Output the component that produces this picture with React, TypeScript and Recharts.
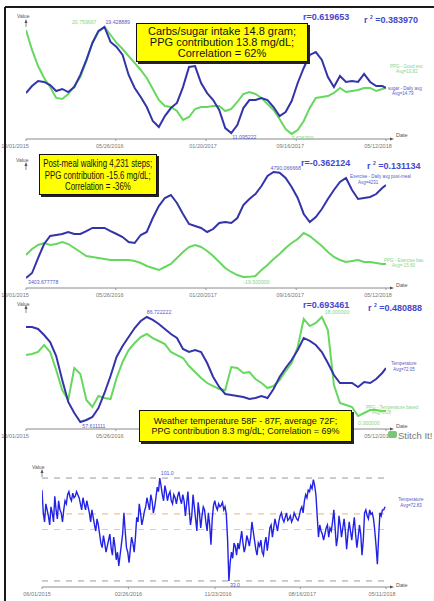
import React from 'react';
import { LineChart, Line, XAxis, YAxis, ReferenceLine, ReferenceDot } from 'recharts';

const FONT = '"Liberation Sans", Arial, Helvetica, sans-serif';
const BLUE = '#3434aa';
const GREEN = '#66d85e';
const NOTE_BLUE = '#5a5ac4';
const NOTE_GREEN = '#86d486';

// day offsets from 10/01/2015, shared by the three correlation panels
const trendDays = [
  0, 16, 32, 48, 64, 80, 96, 112, 128, 144, 160, 176, 192, 208, 224, 240, 256, 272, 288, 304,
  320, 336, 352, 368, 384, 400, 416, 432, 448, 464, 480, 496, 512, 528, 544, 560, 576, 592, 608, 624,
  640, 656, 672, 688, 704, 720, 736, 752, 768, 784, 800, 816, 832, 848, 864, 880, 896, 912, 928, 944, 954,
];
const trendTicks = [0, 238, 477, 716, 954];
const trendTickLabels = ['10/01/2015', '05/26/2016', '01/20/2017', '09/16/2017', '05/12/2018'];
const trendTickShift = [-11, -6, -3, -6, -8];

// panel 1: carbs/sugar intake (gram) vs PPG contribution
const carbsGram = [
  14.24, 14.79, 15.19, 15.11, 14.87, 14.4, 14.56, 14.32, 14.71, 15.66,
  16.84, 18.17, 19.12, 19.43, 18.25, 17.86, 17.23, 15.66, 14.64, 13.93,
  13.14, 12.04, 11.57, 12.43, 13.06, 13.46, 14.71, 16.29, 16.36, 15.03,
  14.24, 13.69, 12.91, 11.49, 11.1, 11.73, 13.06, 13.69, 13.69, 13.85,
  13.69, 13.14, 12.43, 12.75, 13.61, 15.03, 16.21, 17.23, 17.46, 16.84,
  15.5, 14.71, 15.58, 15.11, 15.19, 15.11, 15.74, 15.11, 14.79, 14.79, 14.64,
];
const carbsPpg = [
  20.45, 18.37, 16.7, 15.46, 14.52, 13.38, 13.27, 13.79, 14.62, 15.56,
  17.22, 19.1, 20.24, 20.76, 19.93, 19.1, 18.47, 17.74, 17.02, 16.29,
  15.46, 14.31, 13.17, 12.54, 12.44, 12.02, 11.09, 11.4, 12.23, 12.44,
  12.44, 12.54, 12.54, 12.02, 12.23, 12.96, 13.79, 14.0, 13.79, 13.38,
  12.75, 12.13, 11.19, 10.15, 9.64, 10.05, 10.98, 12.34, 13.38, 13.48,
  13.58, 13.9, 14.42, 14.0, 14.1, 14.21, 14.42, 14.42, 14.1, 14.31, 14.42,
];

// panel 2: post-meal walking steps vs PPG contribution
const walkSteps = [
  3403.68, 3469, 3665, 3848, 3953, 3966, 3979, 4005, 3979, 3979,
  4018, 4058, 4058, 4058, 4018, 3979, 3940, 3874, 3861, 3966,
  4005, 4188, 4345, 4450, 4489, 4385, 4241, 4110, 4084, 4058,
  4005, 4044, 4123, 4136, 4123, 4188, 4358, 4437, 4502, 4607,
  4738, 4790.07, 4780, 4712, 4594, 4450, 4241, 4136, 4201, 4306,
  4437, 4555, 4659, 4712, 4555, 4437, 4450, 4463, 4502, 4581, 4620,
];
const walkPpg = [
  -15.45, -14.35, -13.61, -13.24, -13.61, -13.43, -13.06, -13.43, -14.16, -14.9,
  -15.64, -15.82, -16.01, -16.19, -16.37, -16.37, -16.37, -16.37, -16.56, -16.93,
  -17.48, -17.85, -18.22, -17.66, -17.11, -16.01, -14.9, -13.98, -13.61, -13.98,
  -14.72, -15.64, -16.74, -17.85, -18.58, -19.14, -19.5, -19.48, -19.32, -18.22,
  -17.29, -16.19, -15.27, -14.16, -13.24, -12.51, -11.4, -11.95, -12.87, -13.79,
  -14.9, -15.82, -16.37, -16.74, -16.56, -16.37, -16.74, -16.74, -16.93, -17.11, -17.11,
];

// panel 3: weather temperature (F) vs PPG contribution
const weatherTemp = [
  83.95, 83.95, 83.39, 81.73, 79.79, 75.91, 69.26, 63.16, 60.11, 57.61,
  58.17, 59.0, 61.49, 65.65, 70.37, 75.63, 78.68, 81.18, 83.67, 85.61,
  86.72, 85.89, 84.78, 83.39, 82.01, 80.9, 77.85, 77.02, 77.57, 77.02,
  73.97, 70.09, 67.32, 65.38, 65.1, 64.82, 64.54, 63.99, 64.27, 64.82,
  64.27, 66.76, 70.09, 72.58, 74.8, 77.57, 80.9, 80.07, 78.96, 77.02,
  73.97, 70.64, 68.42, 68.42, 68.42, 67.32, 68.7, 68.42, 69.53, 71.2, 72.58,
];
const weatherPpg = [
  11.09, 11.27, 11.64, 12.91, 11.64, 8.36, 4.73, 2.91, 8.73, 7.64,
  2.91, 1.64, 3.64, 3.27, 3.09, 6.91, 9.82, 12.0, 13.27, 14.36,
  14.91, 14.18, 13.64, 13.09, 11.64, 11.09, 10.55, 9.09, 8.0, 6.91,
  6.0, 5.45, 4.91, 4.73, 8.91, 8.73, 7.82, 8.0, 6.73, 6.0,
  5.09, 5.45, 6.55, 8.18, 9.64, 12.55, 17.64, 16.36, 16.91, 18.0,
  15.64, 5.64, 2.36, 2.0, 1.64, 0.0, 0.55, 1.09, 1.09, 0.91, 0.91,
];

// panel 4: daily temperature, every 4th day from 06/01/2015
const dailyDays = [
  0, 4, 8, 12, 16, 20, 24, 28, 32, 36, 40, 44, 48, 52, 56, 60, 64, 68, 72, 76,
  80, 84, 88, 92, 96, 100, 104, 108, 112, 116, 120, 124, 128, 132, 136, 140, 144, 148, 152, 156,
  160, 164, 168, 172, 176, 180, 184, 188, 192, 196, 200, 204, 208, 212, 216, 220, 224, 228, 232, 236,
  240, 244, 248, 252, 256, 260, 264, 268, 272, 276, 280, 284, 288, 292, 296, 300, 304, 308, 312, 316,
  320, 324, 328, 332, 336, 340, 344, 348, 352, 356, 360, 364, 368, 372, 376, 380, 384, 388, 392, 396,
  400, 404, 408, 412, 416, 420, 424, 428, 432, 436, 440, 444, 448, 452, 456, 460, 464, 468, 472, 476,
  480, 484, 488, 492, 496, 500, 504, 508, 512, 516, 520, 524, 528, 532, 536, 540, 544, 548, 552, 556,
  560, 564, 568, 572, 576, 580, 584, 588, 592, 596, 600, 604, 608, 612, 616, 620, 624, 628, 632, 636,
  640, 644, 648, 652, 656, 660, 664, 668, 672, 676, 680, 684, 688, 692, 696, 700, 704, 708, 712, 716,
  720, 724, 728, 732, 736, 740, 744, 748, 752, 756, 760, 764, 768, 772, 776, 780, 784, 788, 792, 796,
  800, 804, 808, 812, 816, 820, 824, 828, 832, 836, 840, 844, 848, 852, 856, 860, 864, 868, 872, 876,
  880, 884, 888, 892, 896, 900, 904, 908, 912, 916, 920, 924, 928, 932, 936, 940, 944, 948, 952, 956,
  960, 964, 968, 972, 976, 980, 984, 988, 992, 996, 1000, 1004, 1008, 1012, 1016, 1020, 1024, 1028, 1032, 1036,
  1040, 1044, 1048, 1052, 1056, 1060, 1064, 1068, 1072,
];
const dailyTemp = [
  93, 78, 72, 84, 80, 76, 70, 82, 78, 72, 89, 80, 74, 86, 80, 78, 72, 80, 86, 84,
  90, 92, 88, 86, 91, 88, 89, 92, 90, 88, 84, 80, 88, 84, 80, 86, 82, 78, 72, 80,
  75, 70, 66, 74, 70, 64, 58, 55, 63, 58, 52, 56, 60, 64, 55, 50, 62, 56, 47, 52,
  43, 50, 57, 64, 78, 66, 55, 52, 45, 54, 62, 58, 52, 62, 75, 72, 84, 78, 70, 74,
  79, 82, 88, 84, 80, 90, 86, 78, 82, 88, 95, 92, 101, 96, 90, 86, 96, 92, 86, 90,
  92, 86, 84, 90, 88, 84, 89, 92, 87, 84, 90, 86, 76, 84, 92, 80, 70, 76, 90, 82,
  74, 66, 85, 78, 68, 76, 82, 80, 72, 66, 78, 70, 57, 74, 83, 86, 82, 80, 84, 82,
  83, 85, 80, 82, 77, 60, 33, 45, 52, 48, 58, 56, 50, 58, 54, 60, 66, 58, 52, 56,
  63, 60, 56, 62, 72, 66, 60, 54, 50, 58, 56, 60, 52, 50, 58, 62, 53, 60, 68, 70,
  62, 68, 74, 70, 66, 72, 76, 78, 74, 72, 75, 78, 73, 74, 76, 72, 74, 78, 76, 74,
  73, 76, 80, 82, 78, 86, 90, 88, 93, 92, 96, 94, 100, 96, 90, 76, 62, 70, 66, 64,
  60, 64, 68, 70, 62, 68, 66, 72, 80, 68, 56, 62, 76, 70, 62, 68, 74, 66, 54, 64,
  72, 66, 60, 68, 75, 64, 55, 62, 70, 64, 50, 60, 78, 80, 76, 74, 80, 77, 78, 74,
  66, 56, 44, 62, 78, 76, 80, 80, 82,
];
const dailyTicks = [0, 270, 541, 807, 1075];
const dailyTickLabels = ['06/01/2015', '02/26/2016', '11/23/2016', '08/16/2017', '05/11/2018'];
const dailyTickShift = [-5, 0, 3, 2, -4];
const dailyYTicks = [33, 50, 67, 84, 101];

const dateTick = (ticks: number[], labels: string[], shift: number[], hidden: number[] = []) => (props: any) => {
  const { x, y, payload } = props;
  const i = ticks.indexOf(payload.value);
  if (hidden.includes(i)) return <g />;
  return (
    <text x={x + shift[i]} y={y + 5} textAnchor="middle" fontSize={5.5} fill="#777" fontFamily={FONT}>
      {labels[i]}
    </text>
  );
};

const pointNote = (text: string, color: string, dx: number, dy: number, anchor = 'start') => (p: any) => {
  const vb = p.viewBox || {};
  return (
    <text x={(vb.x ?? 0) + dx} y={(vb.y ?? 0) + dy} textAnchor={anchor} fontSize={5.2} fill={color} fontFamily={FONT}>
      {text}
    </text>
  );
};

const argMax = (a: number[]) => a.indexOf(Math.max(...a));
const argMin = (a: number[]) => a.indexOf(Math.min(...a));

type TrendProps = {
  top: number;
  height: number;
  plotTop: number;
  main: number[];
  ppg: number[];
  mainDomain: [number, number];
  ppgDomain: [number, number];
  hiddenTicks?: number[];
  notes: { series: 'main' | 'ppg'; at: 'max' | 'min'; text: string; dx: number; dy: number; anchor?: string }[];
};

function TrendPanel({ top, height, plotTop, main, ppg, mainDomain, ppgDomain, hiddenTicks = [], notes }: TrendProps) {
  const rows = trendDays.map((d, i) => ({ day: d, main: main[i], ppg: ppg[i] }));
  return (
    <div style={{ position: 'absolute', left: 0, top }}>
      <LineChart width={434} height={height} data={rows} margin={{ top: plotTop, right: 48, left: 26, bottom: 0 }}>
        <XAxis
          dataKey="day"
          type="number"
          domain={[0, 954]}
          ticks={trendTicks}
          tick={dateTick(trendTicks, trendTickLabels, trendTickShift, hiddenTicks)}
          tickSize={2}
          tickLine={{ stroke: '#999' }}
          axisLine={{ stroke: '#8a8a8a' }}
          height={12}
          allowDataOverflow
        />
        <YAxis yAxisId="main" domain={mainDomain} width={0} tick={false} tickLine={false} axisLine={{ stroke: '#8a8a8a' }} allowDataOverflow />
        <YAxis yAxisId="ppg" domain={ppgDomain} hide allowDataOverflow />
        <Line yAxisId="ppg" dataKey="ppg" type="linear" stroke={GREEN} strokeWidth={2} dot={false} isAnimationActive={false} />
        <Line yAxisId="main" dataKey="main" type="linear" stroke={BLUE} strokeWidth={2} dot={false} isAnimationActive={false} />
        {notes.map((n, k) => {
          const arr = n.series === 'main' ? main : ppg;
          const i = n.at === 'max' ? argMax(arr) : argMin(arr);
          return (
            <ReferenceDot
              key={k}
              yAxisId={n.series}
              x={trendDays[i]}
              y={arr[i]}
              r={0}
              stroke="none"
              fill="none"
              label={pointNote(n.text, n.series === 'main' ? NOTE_BLUE : NOTE_GREEN, n.dx, n.dy, n.anchor)}
            />
          );
        })}
      </LineChart>
    </div>
  );
}

function DailyPanel() {
  const rows = dailyDays.map((d, i) => ({ day: d, temp: dailyTemp[i] }));
  const hi = argMax(dailyTemp);
  const lo = argMin(dailyTemp);
  return (
    <div style={{ position: 'absolute', left: 0, top: 455 }}>
      <LineChart width={434} height={144} data={rows} margin={{ top: 17, right: 48, left: 42, bottom: 0 }}>
        <XAxis
          dataKey="day"
          type="number"
          domain={[0, 1075]}
          ticks={dailyTicks}
          tick={dateTick(dailyTicks, dailyTickLabels, dailyTickShift)}
          tickSize={2}
          tickLine={{ stroke: '#999' }}
          axisLine={{ stroke: '#8a8a8a' }}
          height={12}
          allowDataOverflow
        />
        <YAxis
          domain={[29, 105]}
          ticks={dailyYTicks}
          width={0}
          tickSize={3}
          tickLine={{ stroke: '#999' }}
          axisLine={{ stroke: '#8a8a8a' }}
          tick={{ fontSize: 5, fill: '#777', fontFamily: FONT }}
          tickFormatter={(v: number) => v.toFixed(1)}
          allowDataOverflow
        />
        <ReferenceLine y={101} stroke="#9a9a9a" strokeDasharray="6 6" />
        <ReferenceLine y={77.3} stroke="#e9b47a" strokeDasharray="6 6" />
        <ReferenceLine y={67} stroke="#cfcfcf" strokeDasharray="6 6" />
        <ReferenceLine y={33} stroke="#9a9a9a" strokeDasharray="6 6" />
        <Line dataKey="temp" type="linear" stroke="#2222e6" strokeWidth={1.4} dot={false} isAnimationActive={false} />
        <ReferenceDot x={dailyDays[hi]} y={dailyTemp[hi]} r={0} stroke="none" fill="none" label={pointNote('101.0', NOTE_BLUE, 1, -3)} />
        <ReferenceDot x={dailyDays[lo]} y={dailyTemp[lo]} r={0} stroke="none" fill="none" label={pointNote('33.0', NOTE_BLUE, 1, 6)} />
      </LineChart>
    </div>
  );
}

const Txt = ({ x, y, size, color, children, anchor = 'left', bold = false }: any) => (
  <div
    style={{
      position: 'absolute',
      left: anchor === 'center' ? x - 60 : x,
      width: anchor === 'center' ? 120 : undefined,
      textAlign: anchor === 'center' ? 'center' : 'left',
      top: y - size / 2,
      fontSize: size,
      lineHeight: `${size}px`,
      color,
      fontWeight: bold ? 700 : 400,
      whiteSpace: 'nowrap',
      fontFamily: FONT,
    }}
  >
    {children}
  </div>
);

const YellowBox = ({ left, top, width, height, size, lineH, padTop, squeeze = 1, lines }: any) => (
  <div
    style={{
      position: 'absolute',
      left,
      top,
      width,
      height,
      boxSizing: 'border-box',
      background: '#ffff00',
      border: '1.5px solid #111',
      boxShadow: '2px 2px 0 #222',
      paddingTop: padTop,
      display: 'flex',
      flexDirection: 'column',
      alignItems: 'center',
      fontFamily: FONT,
      fontSize: size,
      lineHeight: `${lineH}px`,
      color: '#111',
    }}
  >
    {lines.map((l: string, i: number) => (
      <div key={i} style={{ whiteSpace: 'nowrap', transform: `scaleX(${squeeze})` }}>
        {l}
      </div>
    ))}
  </div>
);

function AxisMarks() {
  const yArrows = [
    { x: 26, y: 19 },
    { x: 26, y: 162 },
    { x: 26, y: 305 },
    { x: 42, y: 469 },
  ];
  const xArrows = [
    { x: 386, y: 139 },
    { x: 386, y: 288 },
    { x: 386, y: 429 },
    { x: 386, y: 587 },
  ];
  return (
    <svg width={434} height={601} style={{ position: 'absolute', left: 0, top: 0 }}>
      <line x1={5} y1={7} x2={434} y2={7} stroke="#1a1a1a" strokeWidth={2} />
      <line x1={5} y1={7} x2={5} y2={601} stroke="#1a1a1a" strokeWidth={2} />
      {yArrows.map((a, i) => (
        <g key={'y' + i}>
          <line x1={a.x} y1={a.y + 2} x2={a.x} y2={a.y + 8} stroke="#8a8a8a" strokeWidth={1} />
          <path d={`M${a.x - 1.5},${a.y + 4} L${a.x},${a.y} L${a.x + 1.5},${a.y + 4} Z`} fill="#555" />
        </g>
      ))}
      {xArrows.map((a, i) => (
        <g key={'x' + i}>
          <line x1={a.x} y1={a.y} x2={a.x + 5} y2={a.y} stroke="#8a8a8a" strokeWidth={1} />
          <path d={`M${a.x + 4},${a.y - 1.5} L${a.x + 8},${a.y} L${a.x + 4},${a.y + 1.5} Z`} fill="#555" />
        </g>
      ))}
    </svg>
  );
}

export default function App() {
  return (
    <div style={{ position: 'absolute', left: 0, top: 0, width: 434, height: 601, overflow: 'hidden', background: '#fff', fontFamily: FONT }}>
      <TrendPanel
        top={0}
        height={151}
        plotTop={22}
        main={carbsGram}
        ppg={carbsPpg}
        mainDomain={[10.63, 19.82]}
        ppgDomain={[9.11, 21.28]}
        notes={[
          { series: 'main', at: 'max', text: '19.428889', dx: 1, dy: -3 },
          { series: 'ppg', at: 'max', text: '20.759667', dx: -8, dy: -3, anchor: 'end' },
          { series: 'main', at: 'min', text: '11.095222', dx: 1, dy: 6 },
          { series: 'ppg', at: 'min', text: '9.636300', dx: 0, dy: 6 },
        ]}
      />
      <TrendPanel
        top={150}
        height={150}
        plotTop={15}
        main={walkSteps}
        ppg={walkPpg}
        mainDomain={[3272.8, 4881.6]}
        ppgDomain={[-21.53, 1.13]}
        notes={[
          { series: 'main', at: 'max', text: '4790.066668', dx: -3, dy: -2 },
          { series: 'main', at: 'min', text: '3403.677778', dx: 2, dy: 6 },
          { series: 'ppg', at: 'min', text: '-19.500000', dx: 0, dy: 7 },
        ]}
      />
      <TrendPanel
        top={295}
        height={146}
        plotTop={13}
        main={weatherTemp}
        ppg={weatherPpg}
        mainDomain={[55.67, 89.21]}
        ppgDomain={[-2.36, 19.64]}
        hiddenTicks={[2, 3]}
        notes={[
          { series: 'main', at: 'max', text: '86.722222', dx: 0, dy: -3 },
          { series: 'main', at: 'min', text: '57.611111', dx: 2, dy: 6 },
          { series: 'ppg', at: 'max', text: '18.000000', dx: 3, dy: -3 },
          { series: 'ppg', at: 'min', text: '0.000000', dx: 0, dy: 9 },
        ]}
      />
      <DailyPanel />
      <AxisMarks />

      <Txt x={17} y={16} size={5} color="#555">Value</Txt>
      <Txt x={16} y={160} size={5} color="#555">Value</Txt>
      <Txt x={17} y={304} size={5} color="#555">Value</Txt>
      <Txt x={32} y={467} size={5} color="#555">Value</Txt>
      <Txt x={396} y={136} size={5.5} color="#555">Date</Txt>
      <Txt x={396} y={286} size={5.5} color="#555">Date</Txt>
      <Txt x={396} y={427} size={5.5} color="#555">Date</Txt>
      <Txt x={396} y={586} size={5.5} color="#555">Date</Txt>

      <Txt x={303} y={17} size={9} color="#4747cc" bold>r=0.619653</Txt>
      <Txt x={364} y={17} size={9} color="#4747cc" bold>r <sup style={{ fontSize: 5 }}>2</sup> =0.383970</Txt>
      <Txt x={301} y={163} size={9} color="#4747cc" bold>r=-0.362124</Txt>
      <Txt x={367} y={163} size={9} color="#4747cc" bold>r <sup style={{ fontSize: 5 }}>2</sup> =0.131134</Txt>
      <Txt x={303} y={305} size={9} color="#4747cc" bold>r=0.693461</Txt>
      <Txt x={368} y={305} size={9} color="#4747cc" bold>r <sup style={{ fontSize: 5 }}>2</sup> =0.480888</Txt>

      <Txt x={390} y={67} size={4.5} color={NOTE_GREEN}>PPG - Good exc</Txt>
      <Txt x={396} y={72} size={4.5} color={NOTE_GREEN}>Avg=13.82</Txt>
      <Txt x={388} y={89} size={4.5} color={NOTE_BLUE}>sugar - Daily avg</Txt>
      <Txt x={392} y={94} size={4.5} color={NOTE_BLUE}>Avg=14.79</Txt>
      <Txt x={350} y={177} size={4.5} color={NOTE_BLUE}>Exercise - Daily avg post-meal</Txt>
      <Txt x={358} y={183} size={4.5} color={NOTE_BLUE}>Avg=4231</Txt>
      <Txt x={384} y={261} size={4.5} color={NOTE_GREEN}>PPG - Exercise bas</Txt>
      <Txt x={392} y={266} size={4.5} color={NOTE_GREEN}>Avg=-15.60</Txt>
      <Txt x={404} y={364} size={4.5} color={NOTE_BLUE} anchor="center">Temperature</Txt>
      <Txt x={404} y={370} size={4.5} color={NOTE_BLUE} anchor="center">Avg=72.05</Txt>
      <Txt x={366} y={408} size={4.5} color={NOTE_GREEN}>PPG - Temperature based</Txt>
      <Txt x={372} y={413} size={4.5} color={NOTE_GREEN}>Avg=8.28</Txt>
      <Txt x={411} y={500} size={4.5} color={NOTE_BLUE} anchor="center">Temperature</Txt>
      <Txt x={411} y={506} size={4.5} color={NOTE_BLUE} anchor="center">Avg=72.83</Txt>

      <div style={{ position: 'absolute', left: 388, top: 431, width: 9, height: 7, background: '#7cc47c', borderRadius: 2 }} />
      <Txt x={398} y={436} size={9.5} color="#777">Stitch It!</Txt>

      <YellowBox
        left={136}
        top={23}
        width={172}
        height={39}
        size={11}
        lineH={11}
        padTop={2}
        lines={['Carbs/sugar intake 14.8 gram;', 'PPG contribution 13.8 mg/dL;', 'Correlation = 62%']}
      />
      <YellowBox
        left={39}
        top={154}
        width={118}
        height={41}
        size={10.5}
        lineH={11.5}
        padTop={3}
        squeeze={0.75}
        lines={['Post-meal walking 4,231 steps;', 'PPG contribution -15.6 mg/dL;', 'Correlation = -36%']}
      />
      <YellowBox
        left={139}
        top={410}
        width={213}
        height={32}
        size={9}
        lineH={9.5}
        padTop={6}
        lines={['Weather temperature 58F - 87F, average 72F;', 'PPG contribution 8.3 mg/dL; Correlation = 69%']}
      />
    </div>
  );
}
